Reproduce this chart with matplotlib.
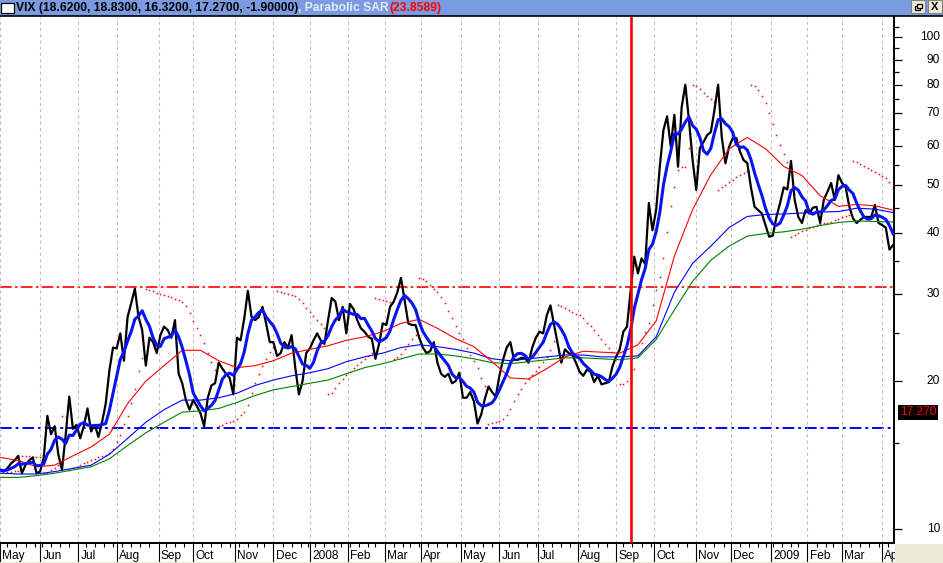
import numpy as np
import pandas as pd
import matplotlib
matplotlib.use("Agg")
import matplotlib.pyplot as plt
from matplotlib.patches import Rectangle
from matplotlib.lines import Line2D
from matplotlib.transforms import blended_transform_factory

plt.rcParams["font.family"] = ["Liberation Sans", "DejaVu Sans"]

# NYSE trading calendar for the visible span
holidays = ["2007-05-28", "2007-07-04", "2007-09-03", "2007-11-22", "2007-12-25",
            "2008-01-01", "2008-01-21", "2008-02-18", "2008-03-21", "2008-05-26",
            "2008-07-04", "2008-09-01", "2008-11-27", "2008-12-25", "2009-01-01",
            "2009-01-19", "2009-02-16", "2009-04-10"]
days = pd.bdate_range("2007-05-01", "2009-04-30")
days = days[~days.isin(pd.to_datetime(holidays))]

# VIX close, one reading every second trading day (bar 0, 2, 4, ...)
close = [
    13.2, 13.1, 13.3, 13.6, 13.8, 14.1, 13.0, 13.5, 13.8, 14.0,
    13.0, 13.1, 14.0, 17.0, 15.6, 16.2, 14.2, 13.2, 15.5, 18.6,
    16.0, 16.3, 15.3, 16.2, 17.6, 15.8, 16.3, 15.4, 16.5, 18.0,
    21.0, 23.4, 23.3, 25.0, 22.0, 27.0, 28.8, 30.8, 27.0, 25.4,
    21.5, 24.5, 24.0, 22.8, 24.8, 25.8, 25.4, 24.5, 26.6, 20.7,
    19.8, 18.3, 17.5, 18.3, 17.8, 17.2, 16.2, 18.5, 19.6, 19.8,
    21.8, 21.2, 20.7, 20.3, 18.8, 24.5, 24.2, 26.8, 30.5, 27.0,
    26.6, 27.0, 28.3, 26.2, 24.0, 24.0, 22.5, 22.8, 24.0, 23.4,
    24.8, 21.3, 18.8, 20.0, 22.8, 23.3, 24.2, 25.0, 24.2, 23.8,
    26.6, 29.5, 29.0, 26.6, 28.3, 25.0, 28.7, 28.0, 26.6, 25.6,
    25.2, 24.6, 24.4, 22.2, 23.8, 26.2, 26.0, 28.3, 29.0, 30.3,
    32.4, 29.2, 26.2, 26.0, 26.0, 24.5, 23.4, 22.8, 23.0, 24.0,
    21.8, 20.7, 20.4, 20.7, 19.8, 20.0, 20.8, 18.5, 18.5, 19.0,
    18.2, 16.4, 17.1, 18.4, 19.5, 19.0, 18.6, 20.5, 22.1, 23.4,
    24.0, 22.1, 22.1, 22.3, 22.3, 21.8, 23.4, 24.5, 25.2, 25.0,
    27.2, 28.5, 26.0, 23.8, 21.8, 23.2, 22.8, 22.6, 21.8, 20.9,
    20.5, 21.1, 20.9, 19.9, 20.5, 19.7, 19.8, 19.9, 21.4, 22.4,
    23.2, 25.2, 25.8, 30.5, 35.8, 33.1, 35.5, 34.6, 46.0, 40.5,
    44.5, 54.5, 64.7, 69.0, 60.0, 69.5, 54.5, 72.0, 80.0, 67.8,
    56.2, 48.9, 59.5, 61.2, 63.2, 64.1, 71.1, 80.0, 62.6, 55.4,
    59.8, 62.3, 62.3, 58.5, 56.2, 55.5, 49.5, 45.2, 44.5, 43.8,
    41.5, 39.3, 39.5, 43.1, 46.0, 49.5, 49.0, 56.0, 46.7, 43.1,
    41.9, 44.5, 43.8, 45.0, 45.2, 41.9, 46.7, 48.5, 50.5, 46.7,
    52.4, 50.5, 49.5, 45.2, 42.8, 41.9, 42.5, 43.1, 43.1, 43.1,
    45.6, 41.9, 41.5, 41.0, 37.0, 37.8,
]
close_bar = np.arange(len(close)) * 2

# longer averages, every tenth trading day
ma_red = [
    14.0, 13.8, 13.4, 13.5, 14.1, 14.7, 15.6, 18.0, 20.0, 21.5,
    23.1, 23.1, 22.0, 21.3, 21.5, 22.0, 22.8, 23.2, 23.6, 24.2,
    24.6, 25.2, 26.2, 26.7, 25.6, 24.4, 23.5, 21.9, 20.3, 20.2,
    21.2, 22.4, 23.0, 22.9, 22.8, 23.7, 26.5, 35.9, 44.6, 52.5,
    59.3, 62.5, 59.3, 54.6, 52.3, 47.6, 45.3, 45.7, 45.4, 44.5,
]
ma_blue = [
    13.0, 12.95, 12.95, 13.1, 13.3, 13.5, 14.2, 15.3, 16.5, 17.5,
    18.3, 18.3, 18.5, 18.9, 19.6, 20.1, 20.5, 20.8, 21.2, 21.9,
    22.4, 22.8, 23.4, 23.7, 23.5, 23.2, 22.8, 22.2, 22.0, 22.2,
    22.4, 22.6, 22.6, 22.4, 22.4, 22.5, 24.6, 30.3, 34.7, 37.6,
    41.0, 43.2, 43.6, 43.7, 43.9, 44.1, 44.2, 44.9, 44.7, 44.0,
]
ma_green = [
    12.75, 12.75, 12.85, 13.0, 13.2, 13.4, 13.9, 14.8, 15.7, 16.5,
    17.3, 17.4, 17.6, 18.1, 18.7, 19.2, 19.5, 19.8, 20.1, 20.7,
    21.3, 21.7, 22.2, 22.7, 22.7, 22.5, 22.2, 21.8, 21.7, 21.9,
    22.1, 22.3, 22.3, 22.2, 22.1, 22.3, 24.3, 27.9, 31.9, 35.2,
    37.6, 39.4, 39.9, 40.2, 40.7, 41.4, 42.0, 42.3, 42.2, 42.1,
]
ma_bar = np.arange(len(ma_red)) * 10

lehman_bar = 346
upper_level = 31.0
lower_level = 16.06
y_major = [10, 20, 30, 40, 50, 60, 70, 80, 90, 100]
y_minor = [15, 25, 35, 45, 55, 65, 75, 85, 95, 105]


def parabolic_sar(values, step=0.02, cap=0.2):
    c = np.asarray(values, float)
    out = np.full(len(c), np.nan)
    rising = c[1] >= c[0]
    sar, ep, af = c[0], c[1], step
    for k in range(1, len(c)):
        sar = sar + af * (ep - sar)
        if rising:
            sar = min(sar, c[k - 1], c[max(k - 2, 0)])
            if c[k] < sar:
                rising = False
                sar, ep, af = ep, c[k], step
            elif c[k] > ep:
                ep, af = c[k], min(af + step, cap)
        else:
            sar = max(sar, c[k - 1], c[max(k - 2, 0)])
            if c[k] > sar:
                rising = True
                sar, ep, af = ep, c[k], step
            elif c[k] < ep:
                ep, af = c[k], min(af + step, cap)
        out[k] = sar
    return out


fast_ma = pd.Series(close).rolling(5, min_periods=1).mean()
sar = parabolic_sar(close)

W, H = 943, 563
fig = plt.figure(figsize=(W / 100, H / 100), dpi=100)
fig.patch.set_facecolor("white")
ax = fig.add_axes([0, (H - 543) / H, 894 / W, 526 / H])
ax.set_facecolor("white")
ax.set_yscale("log")
ax.set_xlim(1.2, 490.5)
ax.set_ylim(9.38, 109.8)

# month / week ticks from the calendar
month_idx = [0] + [i for i in range(1, len(days)) if days[i].month != days[i - 1].month]
week_idx = [i for i in range(1, len(days)) if days[i].weekday() < days[i - 1].weekday()]
month_idx = [i for i in month_idx if i <= 490]
week_idx = [i for i in week_idx if i <= 490 and i not in month_idx]
month_lab = [days[i].strftime("%Y") if days[i].month == 1 else days[i].strftime("%b") for i in month_idx]

ax.set_xticks(month_idx)
ax.set_xticks(week_idx, minor=True)
ax.set_xticklabels([])
ax.tick_params(axis="x", which="major", length=13.7, width=0.8, color="black", direction="out")
ax.tick_params(axis="x", which="minor", length=3.0, width=0.8, color="black", direction="out")
ax.grid(axis="x", which="major", color="#c0c0c0", lw=0.75, linestyle=(0, (3, 3)))

ax.yaxis.tick_right()
ax.set_yticks(y_major)
ax.set_yticks(y_minor, minor=True)
ax.set_yticklabels([])
ax.set_yticklabels([], minor=True)
ax.tick_params(axis="y", which="major", length=5.8, width=0.9, direction="out")
ax.tick_params(axis="y", which="minor", length=3.6, width=0.9, direction="out")

for side in ["left", "top"]:
    ax.spines[side].set_visible(False)
ax.spines["bottom"].set_linewidth(1.4)
ax.spines["right"].set_linewidth(1.4)

ytr = blended_transform_factory(ax.transAxes, ax.transData)
for v in y_major:
    ax.text(1 + 46 / 894, v, str(v), transform=ytr, ha="right", va="center",
            fontsize=8.6, color="black", clip_on=False)

xtr = blended_transform_factory(ax.transData, ax.transAxes)
for i, lab in zip(month_idx, month_lab):
    ax.annotate(lab, xy=(i, 0), xycoords=xtr, xytext=(1.6, -11.2),
                textcoords="offset points", ha="left", va="baseline",
                fontsize=8.6, color="black", annotation_clip=False)

# reference levels
ax.axhline(upper_level, color="#ff0000", lw=1.2, dashes=(7, 2, 1.5, 2), zorder=1)
ax.axhline(lower_level, color="#0000ff", lw=1.4, dashes=(6, 2, 1.5, 2), zorder=1)

# series
ax.plot(close_bar, sar, linestyle="none", marker="s", ms=1.1, mew=0, color="#ff0000", zorder=2)
ax.plot(close_bar, close, color="black", lw=1.6, zorder=3)
ax.plot(ma_bar, ma_green, color="#008000", lw=0.8, zorder=4)
ax.plot(ma_bar, ma_blue, color="#0000ff", lw=0.8, zorder=4)
ax.plot(ma_bar, ma_red, color="#ff0000", lw=0.8, zorder=4)
ax.plot(close_bar, fast_ma, color="#0a14f0", lw=2.2, zorder=5)
ax.axvline(lehman_bar, color="#ff0000", lw=1.9, zorder=6)

# last value tag
ax.text(1 + 6 / 894, 17.27, "17.270", transform=ytr, ha="left", va="center",
        fontsize=8.6, color="#ff0000", clip_on=False,
        bbox=dict(facecolor="black", edgecolor="none", pad=1.2))

# header bar
fig.add_artist(Rectangle((0, 1 - 16 / H), 1, 16 / H, transform=fig.transFigure,
                         facecolor="#7b9be0", edgecolor="none", zorder=8))
fig.add_artist(Line2D([0, 1], [1 - 16.2 / H, 1 - 16.2 / H], transform=fig.transFigure,
                      color="black", lw=1.2, zorder=9))
fig.add_artist(Rectangle((0.5 / W, 1 - 12.7 / H), 13 / W, 10 / H, transform=fig.transFigure,
                         facecolor="white", edgecolor="black", lw=0.9, zorder=9))
hy = 1 - 8.3 / H
fig.text(16 / W, hy, "VIX (18.6200, 18.8300, 16.3200, 17.2700, -1.90000)", color="black",
         fontsize=8.75, fontweight="bold", va="center", ha="left", zorder=10)
fig.text(298 / W, hy, ", Parabolic SAR", color="#e4eaff",
         fontsize=8.75, fontweight="bold", va="center", ha="left", zorder=10)
fig.text(389 / W, hy, "(23.8589)", color="#ff0000",
         fontsize=8.75, fontweight="bold", va="center", ha="left", zorder=10)

# window buttons
for bx in [911, 927.5]:
    fig.add_artist(Rectangle((bx / W, 1 - 12.5 / H), 14 / W, 12 / H, transform=fig.transFigure,
                             facecolor="#ece9d8", edgecolor="#808080", lw=0.8, zorder=9))
fig.add_artist(Rectangle((915 / W, 1 - 9.5 / H), 5 / W, 4 / H, transform=fig.transFigure,
                         facecolor="none", edgecolor="black", lw=0.9, zorder=10))
fig.add_artist(Rectangle((917 / W, 1 - 7.5 / H), 5 / W, 4 / H, transform=fig.transFigure,
                         facecolor="#ece9d8", edgecolor="black", lw=0.9, zorder=10))
fig.text(934.5 / W, 1 - 6.5 / H, "X", color="black", fontsize=8, fontweight="bold",
         ha="center", va="center", zorder=10)

# grey-beige frame parts at the bottom
fig.add_artist(Rectangle((894.8 / W, 0), 1, 19.5 / H, transform=fig.transFigure,
                         facecolor="#ece9d8", edgecolor="none", zorder=10))
fig.add_artist(Rectangle((0, 0), 1, 1.5 / H, transform=fig.transFigure,
                         facecolor="#ece9d8", edgecolor="none", zorder=10))

fig.savefig("out.png", dpi=100, facecolor="white")
